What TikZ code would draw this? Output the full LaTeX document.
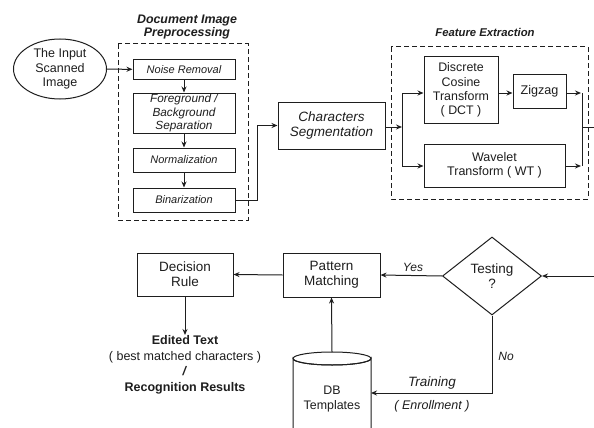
\documentclass[tikz,border=0pt]{standalone}
\usepackage{fontspec}
\setmainfont{Liberation Sans}
\usetikzlibrary{arrows.meta,shapes.geometric}
\definecolor{ink}{HTML}{1E1E1E}
\tikzset{
  ar/.style={draw=ink,line width=1pt,-{Stealth[length=6pt,width=5pt]}},
  ln/.style={draw=ink,line width=1pt},
  box/.style={draw=ink,line width=1pt,rectangle,align=center,inner sep=0pt,text=ink},
  dbox/.style={draw=ink,line width=1pt,dash pattern=on 5pt off 3pt},
  lab/.style={text=ink,inner sep=0pt,align=center}
}
\begin{document}
\begin{tikzpicture}[x=1pt,y=-1pt]
\useasboundingbox[fill=white] (0,0) rectangle (594,428);
% Input
\node[ellipse,draw=ink,line width=1pt,minimum width=93pt,minimum height=60pt,inner sep=0pt,align=center,text=ink,font=\fontsize{12.5}{14.5}\selectfont] (inp) at (60,69) {The Input\\Scanned\\Image};
% Preprocessing group
\draw[dbox] (118,44) rectangle (248,220);
\node[lab,font=\fontsize{12.4}{13.5}\selectfont\bfseries\itshape] (t1) at (187,27) {Document Image\\Preprocessing};
\node[box,minimum width=102pt,minimum height=19pt,font=\fontsize{11}{13}\selectfont\itshape] (nr) at (184,69.5) {Noise Removal};
\node[box,minimum width=102pt,minimum height=40pt,font=\fontsize{11.8}{13.5}\selectfont\itshape] (fg) at (184,113) {Foreground /\\Background\\Separation};
\node[box,minimum width=102pt,minimum height=24pt,font=\fontsize{11}{13}\selectfont\itshape] (nm) at (184,160) {Normalization};
\node[box,minimum width=102pt,minimum height=24pt,font=\fontsize{11}{13}\selectfont\itshape] (bz) at (184,200) {Binarization};
% Segmentation
\node[box,minimum width=107pt,minimum height=47pt,font=\fontsize{13.5}{15.5}\selectfont\itshape] (cs) at (331.5,125.5) {Characters\\Segmentation};
% Feature extraction
\draw[dbox] (391,47) rectangle (588,199);
\node[lab,font=\fontsize{11.3}{13}\selectfont\bfseries\itshape] (t2) at (485,32) {Feature Extraction};
\node[box,minimum width=74pt,minimum height=66pt,font=\fontsize{12.4}{14.2}\selectfont] (dct) at (461,90) {Discrete\\Cosine\\Transform\\( DCT )};
\node[box,minimum width=53pt,minimum height=34pt,font=\fontsize{12.6}{14}\selectfont] (zz) at (539.5,91) {Zigzag};
\node[box,minimum width=141pt,minimum height=43pt,font=\fontsize{12.5}{14.5}\selectfont] (wt) at (494.5,165.5) {Wavelet\\Transform ( WT )};
\coordinate (jin) at (402,127);
\coordinate (jtop) at (402,93);
\coordinate (jbot) at (402,166);
\coordinate (otop) at (582,93);
\coordinate (obot) at (582,166);
\coordinate (jout) at (582,127);
\coordinate (outend) at (594,127);
% Lower part
\node[box,minimum width=96pt,minimum height=43pt,font=\fontsize{13.5}{15}\selectfont] (dr) at (185,274.5) {Decision\\Rule};
\node[box,minimum width=97pt,minimum height=44pt,font=\fontsize{13.5}{15}\selectfont] (pm) at (331.5,275) {Pattern\\Matching};
\node[diamond,draw=ink,line width=1pt,minimum width=99pt,minimum height=78pt,inner sep=0pt,aspect=1.27,align=center,text=ink,font=\fontsize{13.5}{15}\selectfont] (test) at (492,276) {Testing\\?};
\coordinate (rin) at (594,276);
% Database cylinder
\draw[ln] (293,428) -- (293,358.5) arc[start angle=180,end angle=360,x radius=39,y radius=-6.5] -- (371,428);
\draw[ln] (332,358.5) ellipse[x radius=39,y radius=6.5];
\node[lab,font=\fontsize{12.4}{14.2}\selectfont] (db) at (332,399) {DB\\Templates};
\coordinate (dbtop) at (332,352);
\coordinate (dbright) at (371,393);
\coordinate (nocorner) at (492,393);
\coordinate (resin) at (185,335);
\node[lab,font=\fontsize{12.5}{15.5}\selectfont,anchor=north] (res) at (185,335.5) {\textbf{Edited Text}\\( best matched characters )\\\textbf{\itshape /}\\\textbf{Recognition Results}};
% Connectors
\draw[ar] (inp) -- (nr);
\draw[ar] (nr) -- (fg);
\draw[ar] (fg) -- (nm);
\draw[ar] (nm) -- (bz);
\draw[ar] (bz.east) -- ++(22,0) |- (cs.west);
\draw[ar] (cs.east |- jin) -- (jin);
\draw[ln] (jtop) -- (jbot);
\draw[ar] (jtop) -- (dct.west |- jtop);
\draw[ar] (jbot) -- (wt.west |- jbot);
\draw[ar] (dct.east |- jtop) -- (zz.west |- jtop);
\draw[ar] (zz.east |- otop) -- ([xshift=-1pt]otop);
\draw[ar] (wt.east |- obot) -- ([xshift=-1pt]obot);
\draw[ln] (otop) -- (obot);
\draw[ln] (jout) -- (outend);
\draw[ar] (rin) -- (test.east);
\draw[ar] (test.west) -- (pm.east);
\node[lab,font=\fontsize{12}{14}\selectfont\itshape] (yes) at (413,267) {Yes};
\draw[ar] (pm.west) -- (dr.east);
\draw[ar] (dbtop) -- (pm.south);
\draw[ar] (test.south) -- (nocorner) -- (dbright);
\node[lab,font=\fontsize{12}{14}\selectfont\itshape] (no) at (506,356) {No};
\node[lab,font=\fontsize{13.5}{15}\selectfont\itshape] (tr) at (432,383) {Training};
\node[lab,font=\fontsize{12.5}{15}\selectfont\itshape] (en) at (432,406) {( Enrollment )};
\draw[ar] (dr.south) -- (resin);
\end{tikzpicture}
\end{document}
